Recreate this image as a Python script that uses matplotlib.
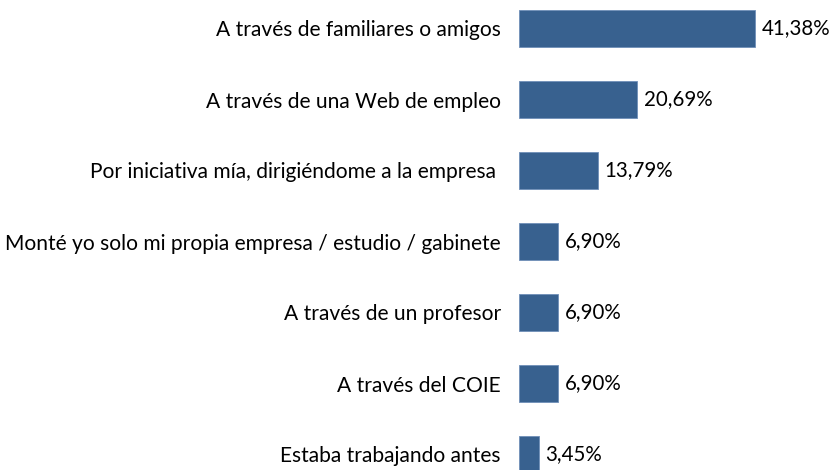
import matplotlib
matplotlib.use("Agg")
import matplotlib.pyplot as plt

categorias = [
    "A través de familiares o amigos",
    "A través de una Web de empleo",
    "Por iniciativa mía, dirigiéndome a la empresa ",
    "Monté yo solo mi propia empresa / estudio / gabinete",
    "A través de un profesor",
    "A través del COIE",
    "Estaba trabajando antes",
]
porcentajes = [41.38, 20.69, 13.79, 6.90, 6.90, 6.90, 3.45]

plt.rcParams["font.family"] = ["Lato", "DejaVu Sans"]

fig = plt.figure(figsize=(8.35, 4.7), dpi=100)
ax = fig.add_axes([519 / 835, 0, 316 / 835, 1])

posiciones = list(range(len(categorias)))
ax.barh(posiciones, porcentajes, height=0.52, color="#38618f",
        edgecolor="#6f8fb8", linewidth=0.6)

ax.set_xlim(0, 41.38 * 316 / 236)
ax.set_ylim((470 - 28.5) / 71, -28.5 / 71)

ax.set_yticks(posiciones)
ax.set_yticklabels(categorias, fontsize=15.1, color="black")
ax.tick_params(axis="y", length=0, pad=13)
ax.set_xticks([])
for lado in ax.spines.values():
    lado.set_visible(False)

# etiquetas de valor a la derecha de cada barra
for y, v in zip(posiciones, porcentajes):
    ax.text(v + 1.2, y, f"{v:.2f}%".replace(".", ","), va="center",
            ha="left", fontsize=14.8, color="black")

fig.savefig("out.png", dpi=100)
